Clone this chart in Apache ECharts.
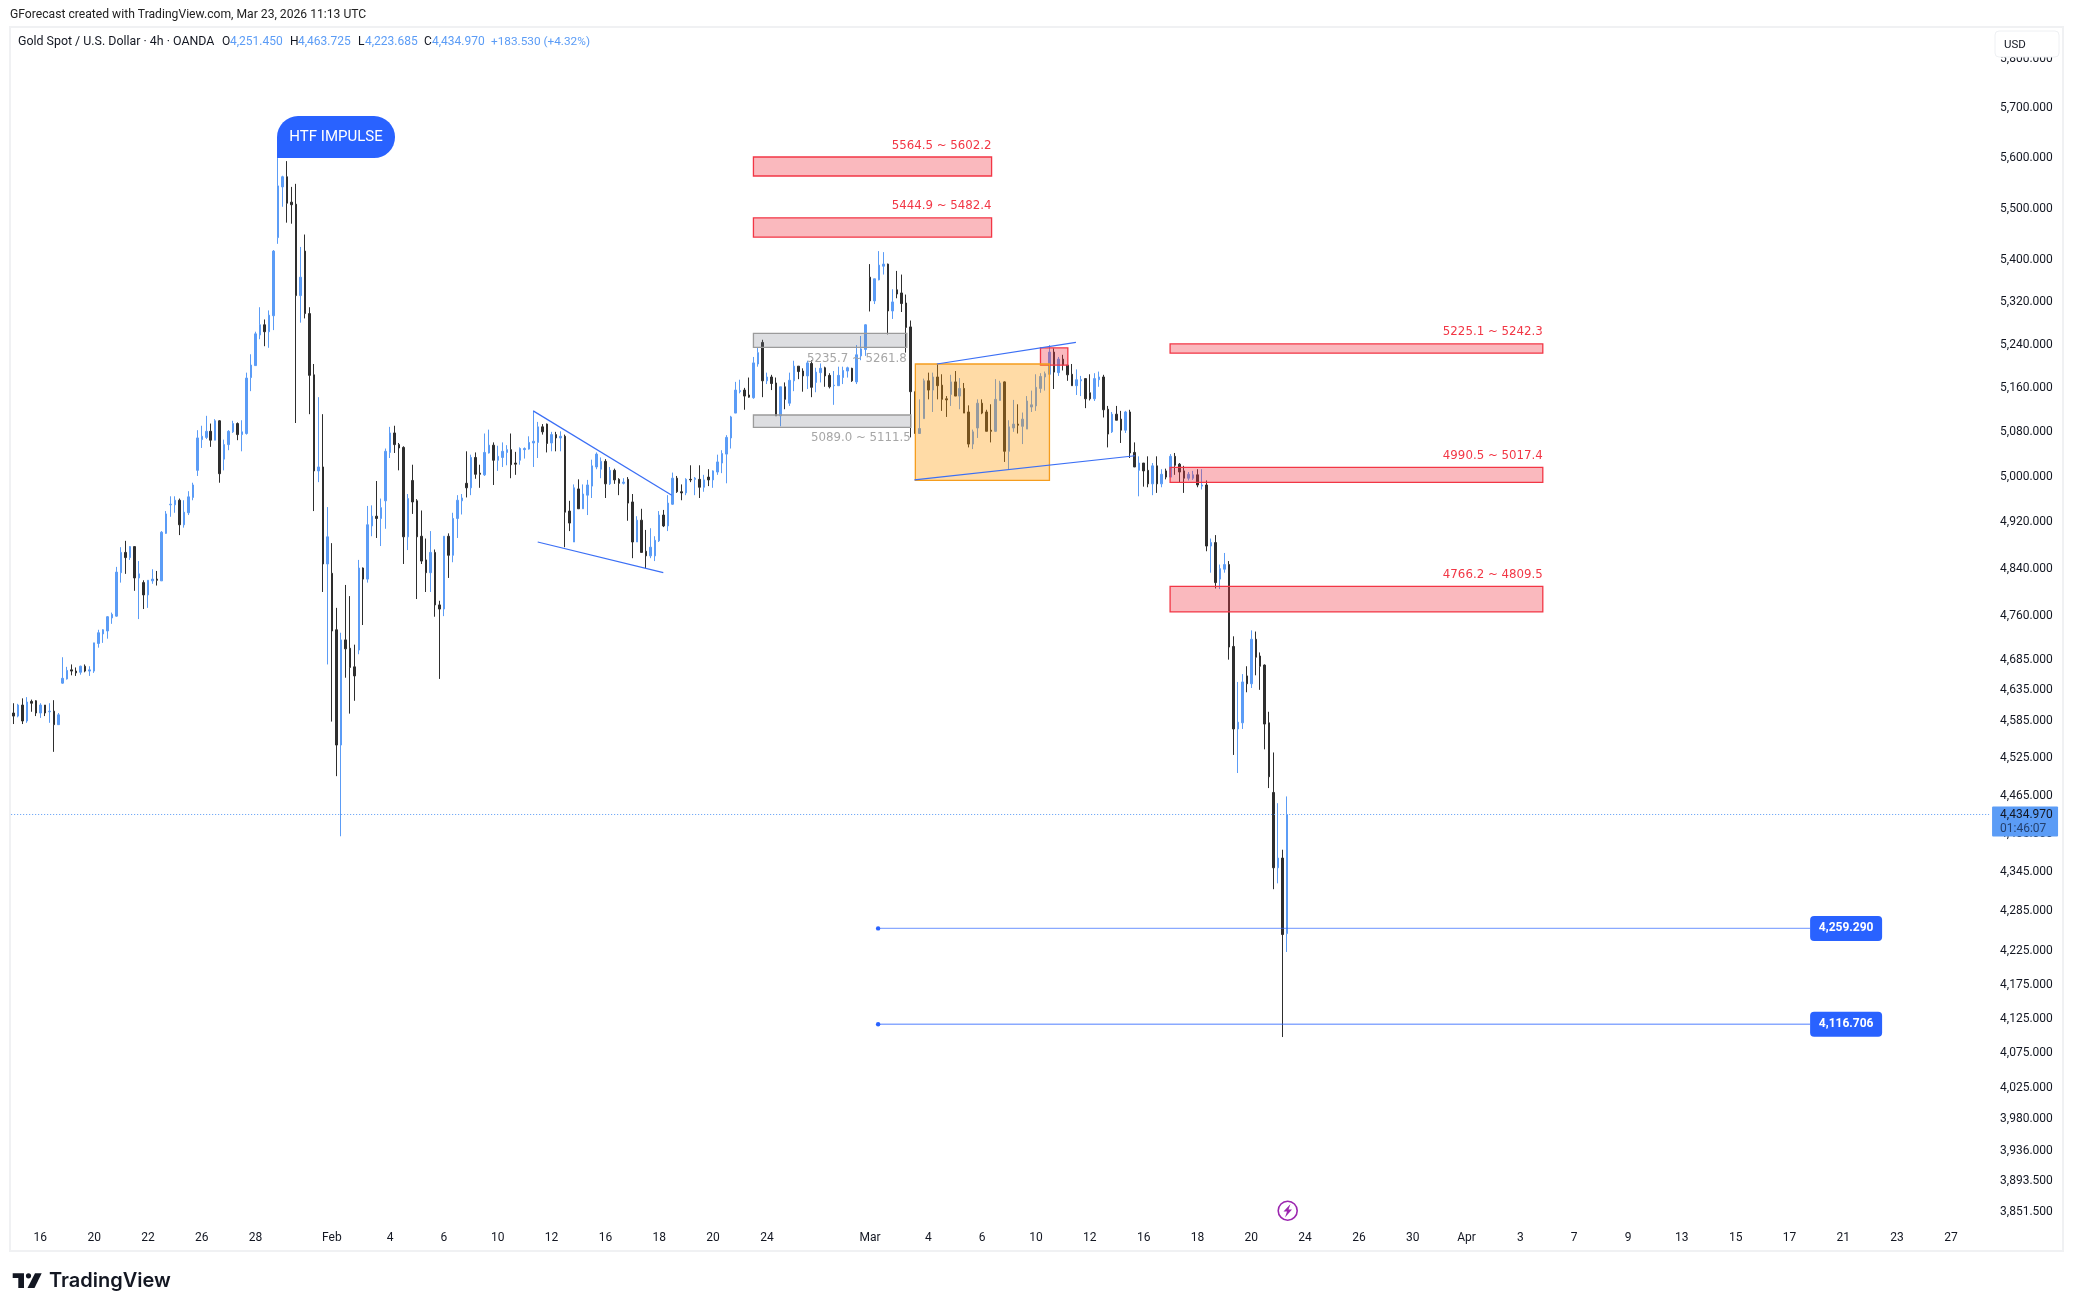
<!DOCTYPE html>
<html>
<head>
<meta charset="utf-8">
<style>html,body{margin:0;padding:0;background:#fff}#c{width:2073px;height:1311px}</style>
<script src="https://cdn.jsdelivr.net/npm/echarts@6/dist/echarts.min.js"></script>
</head>
<body>
<div id="c"></div>
<script>
const barOpen=[4598,4593,4611,4585,4617,4618,4598,4611,4600,4601,
4579,4647,4654,4669,4667,4665,4675,4667,4667,4713,
4729,4734,4756,4759,4833,4868,4859,4878,4824,4816,
4795,4819,4822,4819,4901,4951,4951,4959,4916,4937,
4964,5012,5067,5071,5082,5066,5101,5032,5058,5081,
5096,5076,5078,5180,5202,5259,5278,5265,5295,5444,
5543,5563,5513,5509,5333,5418,5299,5185,5011,5018,
4848,4832,4736,4546,4719,4705,4674,4702,4841,4822,
4914,4931,4927,4958,5044,5079,5058,5053,4895,4994,
4958,4896,4855,4833,4868,4778,4771,4896,4863,4927,
4958,4989,4981,5035,5007,5004,5043,5057,5030,5035,
5044,5049,5025,5030,5049,5050,5061,5062,5090,5095,
5061,5076,5070,5073,4940,4886,4979,4944,4968,4984,
5018,5014,5028,4988,5012,4996,4989,4996,4956,4886,
4924,4870,4862,4862,4888,4933,4914,4952,4998,4974,
4972,4996,4996,4996,4982,5000,4995,5009,5025,5041,
5070,5115,5154,5157,5148,5143,5205,5245,5174,5181,
5170,5110,5163,5133,5174,5201,5192,5183,5206,5171,
5189,5198,5184,5165,5165,5180,5192,5197,5172,5220,
5232,5368,5323,5363,5389,5393,5304,5344,5338,5319,
5274,5154,5078,5105,5174,5157,5181,5166,5141,5149,
5172,5146,5160,5117,5059,5088,5133,5117,5084,5082,
5138,5172,5046,5088,5095,5091,5086,5126,5128,5160,
5181,5186,5227,5189,5214,5203,5186,5165,5174,5178,
5152,5141,5176,5181,5122,5081,5113,5104,5084,5117,
5044,5012,5025,5012,4988,5020,4988,5011,5000,5037,
5023,5011,4998,4998,5004,4984,4986,4879,4885,4822,
4839,4847,4708,4572,4582,4659,4646,4720,4692,4677,
4582,4470,4352,4367,4251.45];
const barClose=[4593,4611,4585,4616,4614,4598,4611,4598,4601,4579,
4595,4655,4668,4667,4664,4675,4667,4669,4714,4731,
4736,4758,4762,4834,4868,4859,4878,4824,4831,4795,
4820,4822,4820,4903,4935,4952,4959,4916,4938,4965,
4986,5070,5073,5082,5066,5101,5006,5058,5082,5096,
5076,5081,5179,5203,5261,5278,5265,5296,5418,5545,
5563,5511,5508,5333,5368,5299,5184,5011,5018,4848,
4895,4734,4546,4719,4704,4673,4659,4841,4822,4916,
4931,4927,4946,5046,5079,5058,5052,4895,4962,4956,
4895,4853,4833,4868,4778,4771,4896,4863,4927,4959,
4963,4981,5035,5005,5005,5044,5057,5030,5037,5046,
5049,5022,5023,5051,5051,5062,5064,5090,5081,5060,
5076,5070,5073,4938,4919,4981,4944,4970,4986,5020,
5041,5028,4988,5012,4995,4989,4991,4954,4886,4924,
4868,4862,4877,4889,4933,4914,4954,4998,4974,4972,
4996,4995,4998,4982,4995,4995,5011,5027,5042,5071,
5108,5157,5156,5146,5144,5207,5226,5174,5181,5169,
5110,5163,5140,5175,5201,5191,5183,5207,5162,5190,
5197,5183,5163,5166,5184,5193,5198,5174,5222,5233,
5278,5323,5365,5391,5393,5304,5321,5336,5318,5273,
5154,5078,5087,5174,5157,5181,5165,5140,5139,5172,
5146,5160,5115,5059,5081,5133,5115,5082,5082,5140,
5170,5046,5090,5095,5093,5104,5137,5130,5162,5182,
5187,5227,5190,5214,5203,5185,5165,5176,5176,5141,
5141,5178,5181,5121,5077,5113,5102,5084,5117,5043,
5018,5025,5011,4988,5020,4988,5005,5000,5037,5021,
5009,4998,5005,5004,4986,4986,4879,4885,4816,4840,
4847,4707,4572,4583,4649,4646,4720,4690,4675,4580,
4495,4352,4367,4250,4434.97];
const barLow=[4580,4591,4580,4582,4600,4593,4590,4593,4582,4535,
4579,4646,4653,4660,4659,4661,4665,4659,4664,4706,
4714,4721,4746,4758,4816,4831,4855,4802,4754,4771,
4773,4814,4811,4819,4900,4930,4937,4898,4911,4933,
4959,5002,5052,5068,5054,5066,4990,5012,5048,5079,
5066,5046,5076,5155,5202,5251,5238,5235,5268,5432,
5504,5473,5471,5097,5282,5290,5113,4940,4991,4800,
4678,4584,4496,4401,4656,4597,4618,4695,4744,4816,
4896,4893,4879,4909,5034,5043,5012,4848,4872,4935,
4788,4848,4800,4800,4758,4654,4759,4824,4851,4893,
4934,4964,4968,4997,4981,5002,5042,4986,5011,5018,
5021,4998,5004,5022,5033,5049,5018,5034,5076,5044,
5046,5046,5046,4877,4905,4886,4944,4944,4933,4963,
5014,4998,4963,4986,4988,4968,4987,4923,4858,4886,
4868,4841,4858,4853,4886,4912,4905,4951,4972,4959,
4968,4991,4968,4963,4974,4984,4981,5004,5007,4989,
5051,5115,5151,5121,5143,5141,5200,5144,5168,5157,
5110,5091,5122,5128,5155,5177,5154,5159,5144,5153,
5171,5163,5160,5130,5165,5168,5180,5172,5168,5212,
5220,5303,5317,5362,5373,5260,5289,5328,5302,5226,
5071,5078,5078,5105,5140,5117,5140,5119,5108,5128,
5146,5122,5115,5053,5050,5070,5113,5082,5062,5081,
5138,5027,5014,5081,5078,5059,5086,5117,5119,5152,
5156,5185,5159,5183,5193,5174,5165,5148,5146,5124,
5138,5137,5163,5107,5053,5079,5102,5061,5079,5034,
5018,4966,4983,4982,4968,4972,4982,4996,5000,5004,
4991,4972,4994,4995,4982,4978,4870,4833,4806,4805,
4833,4686,4530,4501,4572,4632,4639,4660,4636,4539,
4477,4319,4328,4098,4223.685];
const barHigh=[4614,4613,4622,4624,4620,4619,4614,4611,4614,4619,
4598,4690,4674,4678,4673,4676,4678,4675,4714,4736,
4737,4759,4765,4843,4877,4888,4879,4878,4853,4820,
4820,4839,4836,4905,4940,4966,4966,4962,4959,4975,
4990,5084,5092,5110,5096,5104,5102,5067,5084,5101,
5098,5102,5189,5223,5265,5311,5288,5305,5420,5600,
5565,5594,5543,5549,5426,5450,5311,5205,5144,5113,
4947,4884,4773,4731,4812,4793,4711,4855,4842,4949,
4950,4993,4962,5051,5090,5092,5061,5055,4970,5022,
4961,4941,4892,4905,4873,4785,4896,4901,4937,4968,
4970,5046,5040,5044,5022,5078,5085,5062,5056,5062,
5057,5078,5045,5053,5053,5073,5119,5099,5095,5096,
5081,5081,5082,5076,4958,4987,4996,4987,4995,5031,
5044,5035,5032,5018,5015,4998,4998,5000,4970,4931,
4944,4907,4910,4896,4940,4942,4968,5008,5002,4987,
4998,5021,5000,5021,5004,5014,5012,5040,5048,5075,
5110,5172,5176,5161,5180,5218,5235,5250,5189,5185,
5180,5163,5171,5189,5211,5201,5197,5211,5212,5198,
5206,5200,5188,5192,5200,5200,5200,5198,5240,5257,
5279,5393,5365,5418,5416,5394,5345,5380,5373,5335,
5286,5154,5140,5178,5189,5189,5205,5186,5146,5185,
5192,5179,5170,5129,5085,5140,5140,5121,5131,5177,
5174,5173,5102,5139,5131,5116,5146,5156,5186,5188,
5191,5240,5234,5218,5222,5203,5205,5195,5183,5178,
5186,5188,5191,5185,5128,5117,5128,5119,5119,5121,
5062,5037,5025,5037,5025,5037,5014,5015,5041,5043,
5025,5020,5009,5011,5014,5014,4994,4892,4898,4847,
4867,4853,4725,4649,4662,4675,4735,4733,4698,4678,
4600,4534,4453,4380,4463.725];

const priceTicks=[5800,5700,5600,5500,5400,5320,5240,5160,5080,5000,4920,4840,4760,4685,4635,4585,4525,4465,4405,4345,4285,4225,4175,4125,4075,4025,3980,3936,3893.5,3851.5];
const dateTickBars=[6,18,30,42,54,71,84,96,108,120,132,144,156,168,191,204,216,228,240,252,264,276,288,300,312,324,336,348,360,372,384,396,408,420,432];
const dateTickLabels=['16','20','22','26','28','Feb','4','6','10','12','16','18','20','24','Mar','4','6','10','12','16','18','20','24','26','30','Apr','3','7','9','13','15','17','21','23','27'];

// zones: [first bar, last bar, low price, high price]
const redZones=[[165,218.1,5564.5,5602.2],[165,218.1,5444.9,5482.4],[257.9,341,5225.1,5242.3],[257.9,341,4990.5,5017.4],[257.9,341,4766.2,4809.5]];
const redZoneLabels=['5564.5 ~ 5602.2','5444.9 ~ 5482.4','5225.1 ~ 5242.3','4990.5 ~ 5017.4','4766.2 ~ 4809.5'];
const grayZones=[[165,199.2,5235.7,5261.8],[165,200.1,5089.0,5111.5]];
const grayZoneLabels=['5235.7 ~ 5261.8','5089.0 ~ 5111.5'];
const smallRedBox=[[229,235.1,5203,5235]];
const orangeBox=[[201.1,231,4994,5205]];
// trend lines: [bar a, price a, bar b, price b]
const trendLines=[[115.9,5119,146.8,4968],[116.9,4886,144.9,4833],[205.9,5205,236.9,5245],[200.9,4995,250.1,5038]];
// horizontal levels: [first bar, tag bar, price]
const levels=[[192.8,400.6,4259.29],[192.8,400.6,4116.706]];
const levelLabels=['4,259.290','4,116.706'];
const lastPrice=4434.97;
const lastPriceLabel='4,434.970';
const countdownLabel='01:46:07';
const impulseNote=[[59,5600]];
const impulseText='HTF IMPULSE';

const BLUE='#5b9cf6',DARK='#2e2e2e',RED='#f23645',LINE='#2962ff',INK='#131722';
const FONT='Roboto, sans-serif',NOTE_FONT='"DejaVu Sans", sans-serif';

function boxSeries(rows,labels,fill,stroke,textColor,below,z){
  return {type:'custom',coordinateSystem:'cartesian2d',z:z,silent:true,clip:false,
    data:rows,encode:{x:[0,1],y:[2,3]},
    renderItem(p,api){
      const a=api.coord([api.value(0),api.value(3)]),b=api.coord([api.value(1),api.value(2)]);
      const kids=[{type:'rect',shape:{x:a[0],y:a[1],width:b[0]-a[0],height:b[1]-a[1]},
        style:{fill:fill,stroke:stroke,lineWidth:1.3}}];
      if(labels){kids.push({type:'text',style:{text:labels[p.dataIndex],x:b[0],y:below?b[1]+11:a[1]-11.5,
        align:'right',verticalAlign:'middle',fill:textColor,font:'11.8px '+NOTE_FONT}});}
      return {type:'group',children:kids};
    }};
}

const option={
  animation:false,backgroundColor:'#fff',
  grid:{left:11.16,right:83.94,top:27,height:1196,containLabel:false},
  xAxis:{type:'value',min:-0.5,max:440.5,splitLine:{show:false},axisLine:{show:false},axisTick:{show:false},
    axisLabel:{customValues:dateTickBars,margin:9,color:INK,fontFamily:FONT,fontSize:12,
      formatter:v=>dateTickLabels[dateTickBars.indexOf(v)]}},
  yAxis:{type:'log',position:'right',min:3836,max:5867,splitLine:{show:false},axisLine:{show:false},axisTick:{show:false},
    axisLabel:{customValues:priceTicks,margin:11,color:INK,fontFamily:FONT,fontSize:12,
      formatter:v=>Number(v).toLocaleString('en-US',{minimumFractionDigits:3,maximumFractionDigits:3})}},
  series:[
    {type:'candlestick',z:2,barWidth:2,silent:true,
     data:barOpen.map((o,i)=>[i,o,barClose[i],barLow[i],barHigh[i]]),
     encode:{x:0,y:[1,2,3,4]},
     itemStyle:{color:BLUE,color0:DARK,borderColor:BLUE,borderColor0:DARK,borderWidth:1},
     markLine:{silent:true,symbol:'none',label:{show:false},animation:false,
       lineStyle:{color:BLUE,type:[1,2],width:1.2},data:[{yAxis:lastPrice}]}},
    boxSeries(redZones,redZoneLabels,'rgba(242,54,69,0.35)',RED,RED,false,5),
    boxSeries(grayZones,grayZoneLabels,'rgba(120,123,134,0.25)','#9b9b9b','#a6a6a6',true,5),
    boxSeries(smallRedBox,null,'rgba(242,54,69,0.35)',RED,RED,false,5),
    boxSeries(orangeBox,null,'rgba(255,152,0,0.35)','#f59d1e',null,false,5),
    {type:'custom',z:6,silent:true,clip:false,data:trendLines,encode:{x:[0,2],y:[1,3]},
     renderItem(p,api){
       const a=api.coord([api.value(0),api.value(1)]),b=api.coord([api.value(2),api.value(3)]);
       return {type:'line',shape:{x1:a[0],y1:a[1],x2:b[0],y2:b[1]},style:{stroke:'#3b6ff5',lineWidth:1.2}};
     }},
    {type:'custom',z:7,silent:true,clip:false,data:levels,encode:{x:[0,1],y:2},
     renderItem(p,api){
       const a=api.coord([api.value(0),api.value(2)]),b=api.coord([api.value(1),api.value(2)]);
       return {type:'group',children:[
         {type:'line',shape:{x1:a[0],y1:a[1],x2:b[0],y2:b[1]},style:{stroke:'rgba(41,98,255,0.55)',lineWidth:1.4}},
         {type:'circle',shape:{cx:a[0],cy:a[1],r:2.2},style:{fill:LINE}},
         {type:'rect',shape:{x:b[0],y:b[1]-12.5,width:72,height:25,r:4},style:{fill:LINE}},
         {type:'text',style:{text:levelLabels[p.dataIndex],x:b[0]+36,y:b[1],align:'center',verticalAlign:'middle',
           fill:'#fff',font:'bold 12px '+FONT}}
       ]};
     }},
    {type:'custom',z:8,silent:true,clip:false,data:impulseNote,encode:{x:0,y:1},
     renderItem(p,api){
       const a=api.coord([api.value(0),api.value(1)]);
       return {type:'group',children:[
         {type:'rect',shape:{x:a[0]-1,y:a[1]-42,width:118,height:42,r:[21,21,21,0]},style:{fill:LINE}},
         {type:'text',style:{text:impulseText,x:a[0]+58,y:a[1]-21,align:'center',verticalAlign:'middle',fill:'#fff',font:'15px '+FONT}}
       ]};
     }},
    {type:'custom',z:9,silent:true,clip:false,data:[[440.5,lastPrice]],encode:{x:0,y:1},
     renderItem(p,api){
       const a=api.coord([api.value(0),api.value(1)]);
       return {type:'group',children:[
         {type:'rect',shape:{x:a[0]+3,y:a[1]-8,width:66,height:30,r:1},style:{fill:BLUE}},
         {type:'text',style:{text:lastPriceLabel,x:a[0]+11,y:a[1],align:'left',verticalAlign:'middle',fill:INK,font:'12px '+FONT}},
         {type:'text',style:{text:countdownLabel,x:a[0]+11,y:a[1]+14,align:'left',verticalAlign:'middle',fill:'#24406e',font:'12px '+FONT}}
       ]};
     }}
  ],
  graphic:[
    {type:'rect',z:-1,silent:true,shape:{x:10,y:27,width:2053,height:1224},style:{fill:'none',stroke:'#f0f1f3',lineWidth:2}},
    {type:'rect',z:50,silent:true,shape:{x:1995,y:31,width:64,height:26,r:4},style:{fill:'#fff',stroke:'#eef0f3',lineWidth:1}},
    {type:'text',z:51,silent:true,style:{text:'USD',x:2004,y:45,verticalAlign:'middle',fill:INK,font:'11.5px '+FONT}},
    {type:'text',silent:true,style:{text:'GForecast created with TradingView.com, Mar 23, 2026 11:13 UTC',x:10,y:15,verticalAlign:'middle',fill:'#222',font:'12.15px '+FONT}},
    {type:'text',silent:true,style:{text:'Gold Spot / U.S. Dollar · 4h · OANDA',x:18,y:42,verticalAlign:'middle',fill:INK,font:'12.4px '+FONT}},
    {type:'text',silent:true,style:{text:'O',x:222,y:42,verticalAlign:'middle',fill:INK,font:'12px '+FONT}},
    {type:'text',silent:true,style:{text:'4,251.450',x:230,y:42,verticalAlign:'middle',fill:BLUE,font:'12px '+FONT}},
    {type:'text',silent:true,style:{text:'H',x:290,y:42,verticalAlign:'middle',fill:INK,font:'12px '+FONT}},
    {type:'text',silent:true,style:{text:'4,463.725',x:298,y:42,verticalAlign:'middle',fill:BLUE,font:'12px '+FONT}},
    {type:'text',silent:true,style:{text:'L',x:358,y:42,verticalAlign:'middle',fill:INK,font:'12px '+FONT}},
    {type:'text',silent:true,style:{text:'4,223.685',x:365,y:42,verticalAlign:'middle',fill:BLUE,font:'12px '+FONT}},
    {type:'text',silent:true,style:{text:'C',x:424,y:42,verticalAlign:'middle',fill:INK,font:'12px '+FONT}},
    {type:'text',silent:true,style:{text:'4,434.970',x:432,y:42,verticalAlign:'middle',fill:BLUE,font:'12px '+FONT}},
    {type:'text',silent:true,style:{text:'+183.530 (+4.32%)',x:491,y:42,verticalAlign:'middle',fill:BLUE,font:'11.8px '+FONT}},
    {type:'circle',silent:true,shape:{cx:1287.7,cy:1210.7,r:9.5},style:{fill:'#fff',stroke:'#9c27b0',lineWidth:1.6}},
    {type:'polygon',silent:true,shape:{points:[[1290.5,1204],[1283.5,1211.5],[1287,1211.5],[1285,1217.5],[1292,1209.5],[1288.5,1209.5]]},style:{fill:'#9c27b0'}},
    {type:'polygon',silent:true,shape:{points:[[12.7,1273.3],[24,1273.3],[24,1288],[18.3,1288],[18.3,1278],[12.7,1278]]},style:{fill:'#131722'}},
    {type:'circle',silent:true,shape:{cx:28.5,cy:1275.8,r:2.6},style:{fill:'#131722'}},
    {type:'polygon',silent:true,shape:{points:[[35,1273.3],[41.7,1273.3],[34.5,1288],[27.5,1288]]},style:{fill:'#131722'}},
    {type:'text',silent:true,style:{text:'TradingView',x:49,y:1281,verticalAlign:'middle',fill:'#131722',font:'600 20px Inter, sans-serif'}}
  ]
};
echarts.init(document.getElementById('c'),null,{renderer:'canvas'}).setOption(option);
</script>
</body>
</html>
